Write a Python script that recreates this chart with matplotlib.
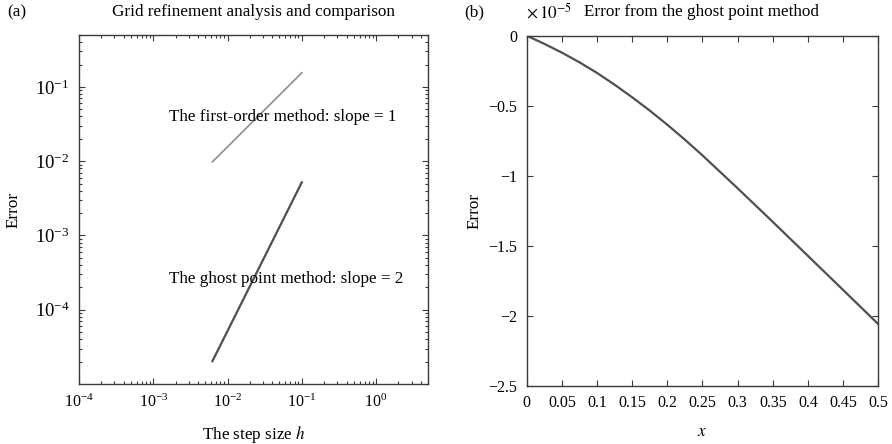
import numpy as np
import matplotlib
matplotlib.use("Agg")
import matplotlib.pyplot as plt
from matplotlib.ticker import LogLocator, FixedLocator

# data
h = [1/10, 1/20, 1/40, 1/80, 1/160]
err_first = [0.155, 0.0775, 0.039, 0.0195, 0.0098]
err_ghost = [5.2e-3, 1.3e-3, 3.25e-4, 8.1e-5, 2.03e-5]

x_b = [0, 0.025, 0.05, 0.075, 0.1, 0.125, 0.15, 0.175, 0.2, 0.225, 0.25,
       0.3, 0.35, 0.4, 0.45, 0.5]
err_b = [0, -0.058, -0.121, -0.19, -0.266, -0.35, -0.44, -0.535, -0.636, -0.743, -0.855,
         -1.09, -1.33, -1.573, -1.816, -2.06]

plt.rcParams['font.family'] = 'Liberation Serif'
plt.rcParams['mathtext.fontset'] = 'stix'
fs = 11.5
fs_txt = 12.3
frame = '#3a3a3a'

fig = plt.figure(figsize=(8.92, 4.44), dpi=100)

# panel (a)
ax1 = fig.add_axes([0.0886, 0.1351, 0.3912, 0.7861])
ax1.loglog(h, err_first, color='#959595', lw=1.3)
ax1.loglog(h, err_ghost, color='#505050', lw=1.6)
ax1.set_xlim(1e-4, 5)
ax1.set_ylim(1e-5, 0.5)
ax1.set_xticks([1e-4, 1e-3, 1e-2, 1e-1, 1e0])
ax1.set_yticks([1e-4, 1e-3, 1e-2, 1e-1])
ax1.xaxis.set_minor_locator(LogLocator(base=10, subs=np.arange(2, 10), numticks=20))
ax1.yaxis.set_minor_locator(LogLocator(base=10, subs=np.arange(2, 10), numticks=20))
ax1.text(1.63e-3, 0.039, 'The first-order method: slope = 1', fontsize=fs_txt, va='center')
ax1.text(1.63e-3, 2.57e-4, 'The ghost point method: slope = 2', fontsize=fs_txt, va='center')
ax1.set_xlabel('The step size $h$', fontsize=fs_txt, labelpad=9)
ax1.set_ylabel('Error', fontsize=fs_txt, labelpad=9)

# panel (b)
ax2 = fig.add_axes([0.5905, 0.1313, 0.3941, 0.7883])
ax2.plot(x_b, err_b, color='#505050', lw=1.6)
ax2.set_xlim(0, 0.5)
ax2.set_ylim(-2.5, 0)
ax2.xaxis.set_major_locator(FixedLocator(np.arange(0, 0.51, 0.05)))
ax2.set_xticklabels(['0', '0.05', '0.1', '0.15', '0.2', '0.25', '0.3', '0.35', '0.4', '0.45', '0.5'])
ax2.set_yticks([-2.5, -2, -1.5, -1, -0.5, 0])
ax2.set_yticklabels(['\u22122.5', '\u22122', '\u22121.5', '\u22121', '\u22120.5', '0'])
ax2.set_xlabel('$x$', fontsize=fs_txt, labelpad=9)
ax2.set_ylabel('Error', fontsize=fs_txt, labelpad=4)

for ax in (ax1, ax2):
    ax.tick_params(which='both', direction='in', top=True, right=True, labelsize=fs,
                   color=frame, width=0.8)
    ax.tick_params(which='major', length=4, pad=7)
    ax.tick_params(which='minor', length=2)
    for s in ax.spines.values():
        s.set_color(frame)
        s.set_linewidth(1.0)
ax1.tick_params(axis='y', labelsize=13.5)

fig.text(0.008, 0.972, '(a)', fontsize=fs_txt, va='center')
fig.text(0.284, 0.972, 'Grid refinement analysis and comparison', fontsize=fs_txt, va='center', ha='center')
fig.text(0.520, 0.972, '(b)', fontsize=fs_txt, va='center')
fig.text(0.590, 0.972, r'$\times\,10^{-5}$', fontsize=fs_txt, va='center')
fig.text(0.655, 0.972, 'Error from the ghost point method', fontsize=fs_txt, va='center')

fig.savefig('out.png', dpi=100)
